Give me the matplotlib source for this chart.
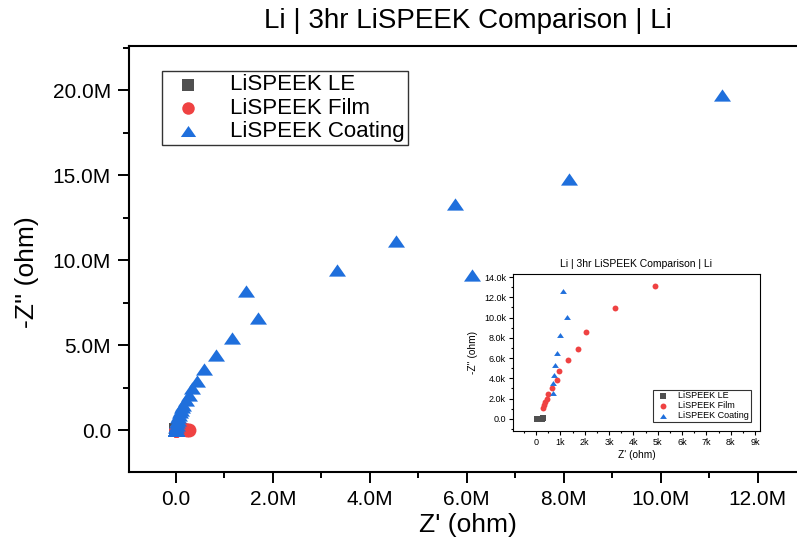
import matplotlib
matplotlib.use('Agg')
import matplotlib.pyplot as plt
from matplotlib.ticker import FuncFormatter, MultipleLocator

plt.rcParams['font.family'] = ['Liberation Sans', 'DejaVu Sans']

title = "Li | 3hr LiSPEEK Comparison | Li"
labels = ["LiSPEEK LE", "LiSPEEK Film", "LiSPEEK Coating"]
colors = ["#505050", "#ef4242", "#1f6fdc"]

# Z' / -Z'' in ohm
le_x = [20, 60, 100, 150, 200, 250, 300]
le_y = [5, 10, 15, 20, 25, 30, 40]

film_x = [300, 340, 380, 430, 470, 640, 850, 930, 1290, 1710, 2040, 3260, 4880,
          9e3, 20e3, 50e3, 100e3, 160e3, 220e3, 260e3]
film_y = [1080, 1410, 1700, 2000, 2460, 3080, 3800, 4720, 5840, 6920, 8620, 10920, 13080,
          20e3, 30e3, 40e3, 45e3, 40e3, 30e3, 20e3]

coat_x = [700, 680, 720, 790, 860, 1000, 1260, 1100,
          8e3, 15e3, 25e3, 35e3, 50e3, 65e3, 80e3, 100e3, 125e3, 150e3, 200e3, 270e3,
          330e3, 430e3, 580e3, 820e3, 1.15e6, 1.69e6, 1.44e6, 6.10e6, 3.32e6, 4.54e6,
          5.75e6, 8.10e6, 11.26e6]
coat_y = [2560, 3540, 4360, 5310, 6490, 8230, 10100, 12660,
          0.15e6, 0.3e6, 0.45e6, 0.6e6, 0.75e6, 0.9e6, 1.05e6, 1.2e6, 1.35e6, 1.5e6, 1.76e6, 2.06e6,
          2.5e6, 2.9e6, 3.6e6, 4.4e6, 5.4e6, 6.6e6, 8.2e6, 9.1e6, 9.4e6, 11.1e6,
          13.3e6, 14.8e6, 19.7e6]

# flat triangle like the Origin symbol
tri = [(-1, -0.72), (1, -0.72), (0, 0.72), (-1, -0.72)]


def mega(v, pos):
    return '0.0' if abs(v) < 1 else '%.1fM' % (v / 1e6)


def kilo1(v, pos):
    return '0.0' if abs(v) < 1 else '%.1fk' % (v / 1e3)


def kilo0(v, pos):
    return '0' if abs(v) < 1 else '%.0fk' % (v / 1e3)


fig = plt.figure(figsize=(7.97, 5.43), dpi=100)
ax = fig.add_axes([129 / 797, 71 / 543, 677 / 797, 426 / 543])

ax.scatter(le_x, le_y, marker='s', s=90, color=colors[0], label=labels[0], linewidths=0)
ax.scatter(film_x, film_y, marker='o', s=100, color=colors[1], label=labels[1], linewidths=0)
ax.scatter(coat_x, coat_y, marker=tri, s=150, color=colors[2], label=labels[2], linewidths=0)

ax.set_xlim(-0.97e6, 13.0e6)
ax.set_ylim(-2.47e6, 22.6e6)
ax.xaxis.set_major_locator(MultipleLocator(2e6))
ax.xaxis.set_minor_locator(MultipleLocator(1e6))
ax.yaxis.set_major_locator(MultipleLocator(5e6))
ax.yaxis.set_minor_locator(MultipleLocator(2.5e6))
ax.xaxis.set_major_formatter(FuncFormatter(mega))
ax.yaxis.set_major_formatter(FuncFormatter(mega))
ax.tick_params(which='major', direction='out', length=8, width=1.4, labelsize=15, pad=5)
ax.tick_params(which='minor', direction='out', length=4, width=1.4)
for s in ax.spines.values():
    s.set_linewidth(1.5)

ax.set_title(title, fontsize=20, pad=13)
ax.set_xlabel("Z' (ohm)", fontsize=19, labelpad=3)
ax.set_ylabel("-Z'' (ohm)", fontsize=19)
ax.yaxis.set_label_coords(-0.133, 0.469)

leg = ax.legend(loc='upper left', bbox_to_anchor=(0.0487, 0.941), borderaxespad=0,
                fontsize=16, frameon=True, fancybox=False, edgecolor='black',
                handlelength=2.0, handletextpad=0.9, borderpad=0.15, labelspacing=0.1,
                scatterpoints=1, markerscale=0.9)
leg.get_frame().set_linewidth(1.0)

# zoomed view of the high-frequency region
ins = fig.add_axes([513 / 797, 112 / 543, 247 / 797, 157 / 543])
ins.scatter(le_x, le_y, marker='s', s=16, color=colors[0], label=labels[0], linewidths=0)
ins.scatter(film_x, film_y, marker='o', s=18, color=colors[1], label=labels[1], linewidths=0)
ins.scatter(coat_x, coat_y, marker=tri, s=24, color=colors[2], label=labels[2], linewidths=0)
ins.set_xlim(-0.95e3, 9.2e3)
ins.set_ylim(-1.2e3, 14.3e3)
ins.xaxis.set_major_locator(MultipleLocator(1e3))
ins.xaxis.set_minor_locator(MultipleLocator(0.5e3))
ins.yaxis.set_major_locator(MultipleLocator(2e3))
ins.yaxis.set_minor_locator(MultipleLocator(1e3))
ins.xaxis.set_major_formatter(FuncFormatter(kilo0))
ins.yaxis.set_major_formatter(FuncFormatter(kilo1))
ins.tick_params(which='major', direction='out', length=3, width=0.8, labelsize=6.5, pad=2)
ins.tick_params(which='minor', direction='out', length=1.5, width=0.8)
for s in ins.spines.values():
    s.set_linewidth(0.8)
ins.set_title(title, fontsize=7.5, pad=5)
ins.set_xlabel("Z' (ohm)", fontsize=7.3, labelpad=2)
ins.set_ylabel("-Z'' (ohm)", fontsize=7.3, labelpad=4)
ileg = ins.legend(loc='lower right', bbox_to_anchor=(0.964, 0.057), borderaxespad=0,
                  fontsize=6.5, frameon=True, fancybox=False, edgecolor='black',
                  handlelength=1.8, handletextpad=0.8, borderpad=0.2, labelspacing=0.1,
                  scatterpoints=1)
ileg.get_frame().set_linewidth(0.8)

fig.savefig('out.png', dpi=100)
